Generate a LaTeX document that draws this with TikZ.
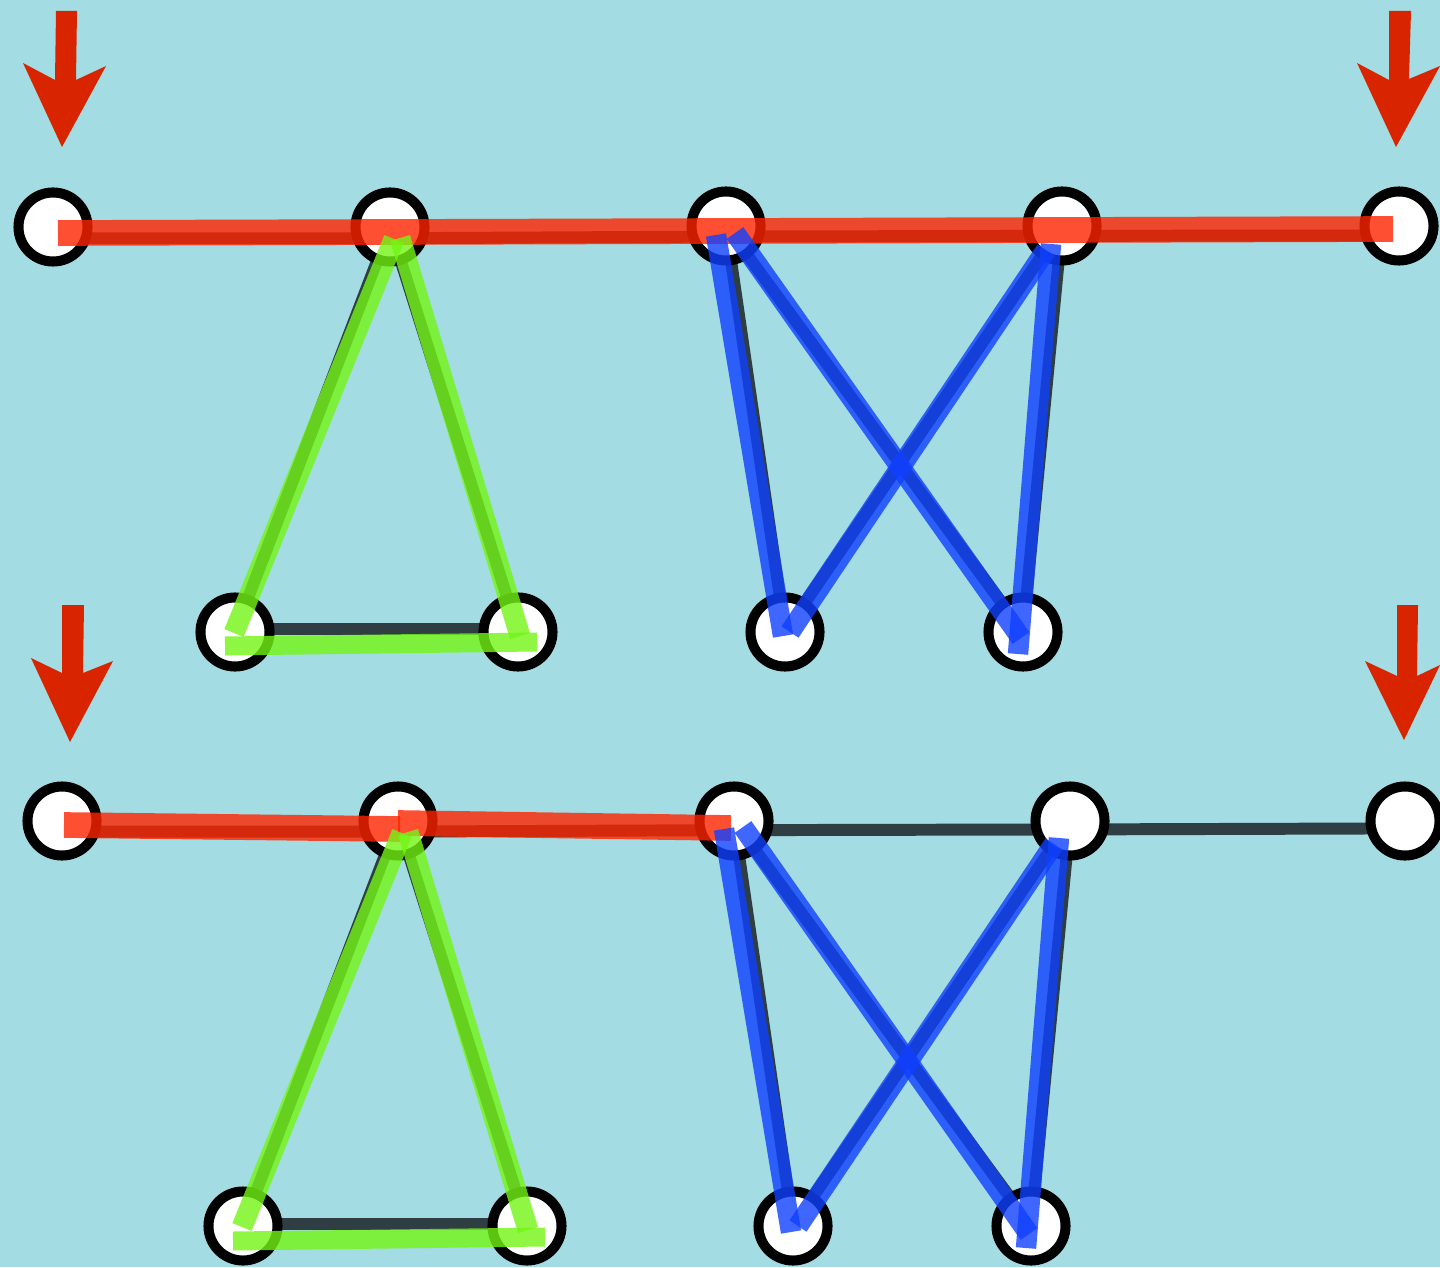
\documentclass[tikz,border=0pt]{standalone}
\definecolor{paper}{RGB}{163,220,226}
\definecolor{edgegray}{RGB}{46,62,66}
\definecolor{hired}{RGB}{255,36,0}
\definecolor{higreen}{RGB}{115,245,20}
\definecolor{hiblue}{RGB}{15,64,255}
\definecolor{arrowred}{RGB}{217,36,0}
\pgfdeclarelayer{paperlayer}
\pgfdeclarelayer{edgelayer}
\pgfsetlayers{paperlayer,edgelayer,main}
\begin{document}
\begin{tikzpicture}[x=0.01cm,y=-0.01cm,
  vtx/.style={circle,draw=black,fill=white,line width=2.85pt,minimum size=0.69cm,inner sep=0pt},
  edge/.style={draw=edgegray,line width=3.4pt},
  redhi/.style={draw=hired,draw opacity=0.8,line width=7.3pt},
  greenhi/.style={draw=higreen,draw opacity=0.8,line width=5.9pt},
  bluehi/.style={draw=hiblue,draw opacity=0.8,line width=5.8pt},
  pointer/.style={fill=arrowred,draw=none}]
\useasboundingbox (0,0) rectangle (1440,1267);
\begin{pgfonlayer}{paperlayer}
\fill[paper] (0,0) rectangle (1440,1267);
\end{pgfonlayer}
% ---------- upper graph nodes
\node[vtx] (A1) at (53,227) {};
\node[vtx] (A2) at (390,227) {};
\node[vtx] (A3) at (726,226) {};
\node[vtx] (A4) at (1062,226) {};
\node[vtx] (A5) at (1399,226) {};
\node[vtx] (B1) at (235,632) {};
\node[vtx] (B2) at (518,632) {};
\node[vtx] (B3) at (785,632) {};
\node[vtx] (B4) at (1023,632) {};
% ---------- lower graph nodes
\node[vtx] (C1) at (62,821) {};
\node[vtx] (C2) at (398,821) {};
\node[vtx] (C3) at (734,821) {};
\node[vtx] (C4) at (1070,821) {};
\node[vtx] (C5) at (1405,821) {};
\node[vtx] (D1) at (243,1226) {};
\node[vtx] (D2) at (527,1226) {};
\node[vtx] (D3) at (793,1226) {};
\node[vtx] (D4) at (1031,1226) {};
% ---------- dark edges (under nodes)
\begin{pgfonlayer}{edgelayer}
\draw[edge] ([yshift=-3.2pt]A1.center) -- ([yshift=-3.2pt]A2.center) -- ([yshift=-3pt]A3.center) -- ([yshift=-2.8pt]A4.center) -- ([yshift=-2.7pt]A5.center);
\draw[edge] (A2.center) -- (B1.center);
\draw[edge] (A2.center) -- (B2.center);
\draw[edge] ([yshift=0.8pt]B1.center) -- ([yshift=0.8pt]B2.center);
\draw[edge] (A3.center) -- (B3.center);
\draw[edge] (A3.center) -- (B4.center);
\draw[edge] (A4.center) -- (B3.center);
\draw[edge] (A4.center) -- (B4.center);
\draw[edge] ([yshift=-3pt]C1.center) -- ([yshift=-3pt]C2.center) -- ([yshift=-2.6pt]C3.center) -- ([yshift=-2.4pt]C4.center) -- ([yshift=-2.1pt]C5.center);
\draw[edge] (C2.center) -- (D1.center);
\draw[edge] (C2.center) -- (D2.center);
\draw[edge] ([yshift=0.5pt]D1.center) -- ([yshift=0.5pt]D2.center);
\draw[edge] (C3.center) -- (D3.center);
\draw[edge] (C3.center) -- (D4.center);
\draw[edge] (C4.center) -- (D3.center);
\draw[edge] (C4.center) -- (D4.center);
\end{pgfonlayer}
% ---------- highlight ends
\coordinate (r1) at (58,233);   \coordinate (r2) at (1393,229);
\coordinate (g1) at (394,239);  \coordinate (g2) at (234,633);
\coordinate (g3) at (400,238);  \coordinate (g4) at (520,636);
\coordinate (g5) at (225,646);  \coordinate (g6) at (537,642);
\coordinate (b1) at (716,235);  \coordinate (b2) at (783,636);
\coordinate (b3) at (735,233);  \coordinate (b4) at (1021,638);
\coordinate (b5) at (1046,250); \coordinate (b6) at (790,632);
\coordinate (b7) at (1051,244); \coordinate (b8) at (1018,654);
\coordinate (s1) at (64,825);   \coordinate (s2) at (400,829);
\coordinate (s3) at (398,823);  \coordinate (s4) at (731,828);
\coordinate (h1) at (402,833);  \coordinate (h2) at (242,1227);
\coordinate (h3) at (408,832);  \coordinate (h4) at (528,1230);
\coordinate (h5) at (233,1241); \coordinate (h6) at (545,1237);
\coordinate (c1) at (724,829);  \coordinate (c2) at (791,1232);
\coordinate (c3) at (743,827);  \coordinate (c4) at (1029,1234);
\coordinate (c5) at (1054,844); \coordinate (c6) at (798,1226);
\coordinate (c7) at (1059,838); \coordinate (c8) at (1026,1248);
% ---------- highlights, upper graph
\draw[redhi] (r1) -- (r2);
\draw[greenhi] (g1) -- (g2);
\draw[greenhi] (g3) -- (g4);
\draw[greenhi,line width=5.4pt] (g5) -- (g6);
\draw[bluehi] (b1) -- (b2);
\draw[bluehi] (b3) -- (b4);
\draw[bluehi] (b5) -- (b6);
\draw[bluehi] (b7) -- (b8);
% ---------- highlights, lower graph
\draw[redhi] (s1) -- (s2);
\draw[redhi] (s3) -- (s4);
\draw[greenhi] (h1) -- (h2);
\draw[greenhi] (h3) -- (h4);
\draw[greenhi,line width=5.4pt] (h5) -- (h6);
\draw[bluehi] (c1) -- (c2);
\draw[bluehi] (c3) -- (c4);
\draw[bluehi] (c5) -- (c6);
\draw[bluehi] (c7) -- (c8);
% ---------- pointer arrows
\fill[pointer] (56,11) -- (77,11) -- (76,80) -- (106,66) -- (62,147) -- (23,63) -- (55,80) -- cycle;
\fill[pointer] (1389,11) -- (1411,11) -- (1409,79) -- (1440,66) -- (1396,147) -- (1357,63) -- (1389,80) -- cycle;
\fill[pointer] (62,605) -- (84,605) -- (83,673) -- (113,661) -- (70,742) -- (31,658) -- (62,673) -- cycle;
\fill[pointer] (1397,605) -- (1418,605) -- (1417,676) -- (1440,665) -- (1404,740) -- (1365,661) -- (1397,676) -- cycle;
\end{tikzpicture}
\end{document}
